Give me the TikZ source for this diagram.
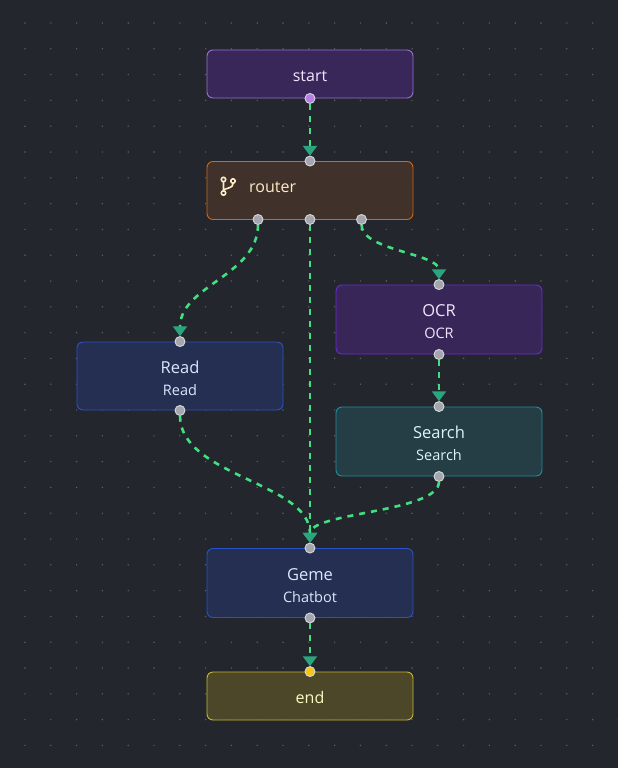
\documentclass[tikz,border=0pt]{standalone}
\usepackage{fontspec}
\setmainfont{Open Sans}
\usepackage{xcolor}
\usepackage{tikz}
\usetikzlibrary{arrows.meta}

\definecolor{canvas}{HTML}{23262D}
\definecolor{griddot}{HTML}{5A5E66}
\definecolor{linkgreen}{HTML}{40E080}
\definecolor{tipgreen}{HTML}{2BA57F}
\definecolor{portgrey}{HTML}{A3A6AF}
\definecolor{startline}{HTML}{9B6FD1}
\definecolor{startfill}{HTML}{3D285E}
\definecolor{startext}{HTML}{F0E6FC}
\definecolor{startport}{HTML}{B57EE8}
\definecolor{routerline}{HTML}{D0690F}
\definecolor{routerfill}{HTML}{43322A}
\definecolor{routertext}{HTML}{FDEBC8}
\definecolor{ocrline}{HTML}{6B2AD0}
\definecolor{ocrfill}{HTML}{3A275C}
\definecolor{searchline}{HTML}{1F8F9C}
\definecolor{searchfill}{HTML}{263F48}
\definecolor{searchtext}{HTML}{D8F6F8}
\definecolor{blueline}{HTML}{2A52C8}
\definecolor{bluefill}{HTML}{253056}
\definecolor{bluetext}{HTML}{DBE6FD}
\definecolor{endline}{HTML}{C8B830}
\definecolor{endfill}{HTML}{4F4A28}
\definecolor{endtext}{HTML}{FEF9C3}
\definecolor{endport}{HTML}{F5C518}

\newcommand{\twoline}[2]{\rule{0pt}{16.5pt}#1\\{\fontsize{14.5}{22}\selectfont #2}}

\begin{document}
\begin{tikzpicture}[
    x=1pt, y=-1pt,
    flowbox/.style={draw, rounded corners=6pt, line width=.9pt, minimum width=206pt,
      inner sep=0pt, align=center, font=\fontsize{16.5}{22}\selectfont,
      fill opacity=.92, text opacity=1},
    port/.style={circle, draw=white!85!black, line width=.9pt, fill=portgrey,
      minimum size=10pt, inner sep=0pt, outer sep=.3pt},
    link/.style={draw=linkgreen, line width=2.6pt, dash pattern=on 6pt off 6pt,
      -{Triangle[width=14pt, length=10pt, color=tipgreen]}},
    branchicon/.style={draw=routertext, line width=1.6pt, line cap=round}]
    \fill[canvas] (0,0) rectangle (618,768);
    \useasboundingbox (0,0) rectangle (618,768);
    % dotted backdrop
    \foreach \i in {0,...,23}
    \foreach \j in {0,...,29}
    \fill[griddot] (25+25.8*\i, 23+25.8*\j) circle (.8pt);

    \node[flowbox, draw=startline, fill=startfill, minimum height=48pt]
      (start) at (310,74) {};
    \node[flowbox, draw=routerline, fill=routerfill, minimum height=58pt]
      (router) at (310,190.5) {};
    \node[flowbox, draw=ocrline, fill=ocrfill, text=startext, minimum height=69pt]
      (ocr) at (439,319.5) {\twoline{OCR}{OCR}};
    \node[flowbox, draw=searchline, fill=searchfill, text=searchtext, minimum height=69pt]
      (search) at (439,441.5) {\twoline{Search}{Search}};
    \node[flowbox, draw=blueline, fill=bluefill, text=bluetext, minimum height=68pt]
      (read) at (180,376) {\twoline{Read}{Read}};
    \node[flowbox, draw=blueline, fill=bluefill, text=bluetext, minimum height=69pt]
      (geme) at (310,583) {\twoline{Geme}{Chatbot}};
    \node[flowbox, draw=endline, fill=endfill, minimum height=48pt]
      (end) at (310,696) {};

    \node[text=startext, font=\fontsize{16}{20}\selectfont, inner sep=0pt, anchor=base]
      (startlabel) at (310,81.5) {start};
    \node[text=routertext, font=\fontsize{16}{20}\selectfont, inner sep=0pt, anchor=base west]
      (routerlabel) at (249,192.5) {router};
    \node[text=endtext, font=\fontsize{16}{20}\selectfont, inner sep=0pt, anchor=base]
      (endlabel) at (310,703.5) {end};
    % branch glyph
    \draw[branchicon] (223.5,182) -- (223.5,190.5)
      (233,183.5) .. controls (233,188) and (228,187.5) .. (223.5,190);
    \draw[branchicon] (223.5,179.5) circle (2.2pt) (223.5,193) circle (2.2pt) (233,181) circle (2.2pt);

    \node[port, fill=startport] (start-out) at (start.south) {};
    \node[port] (router-in) at (router.north) {};
    \node[port] (router-a) at (258,219.5) {};
    \node[port] (router-b) at (310,219.5) {};
    \node[port] (router-c) at (361.5,219.5) {};
    \node[port] (ocr-in) at (ocr.north) {};
    \node[port] (ocr-out) at (ocr.south) {};
    \node[port] (search-in) at (search.north) {};
    \node[port] (search-out) at (search.south) {};
    \node[port] (read-in) at (read.north) {};
    \node[port] (read-out) at (read.south) {};
    \node[port] (geme-in) at (geme.north) {};
    \node[port] (geme-out) at (geme.south) {};
    \node[port, fill=endport] (end-in) at (end.north) {};

    \path[link]
    (start-out) edge (router-in)
    (router-b) edge (geme-in)
    (ocr-out) edge (search-in)
    (geme-out) edge (end-in)
    (router-a) edge [out=-90, in=90, looseness=.95] (read-in)
    (router-c) edge [out=-90, in=90, looseness=.7] (ocr-in)
    (read-out) edge [out=-90, in=90, looseness=.85] (geme-in)
    (search-out) edge [out=-90, in=90, looseness=.55] (geme-in);
\end{tikzpicture}
\end{document}
